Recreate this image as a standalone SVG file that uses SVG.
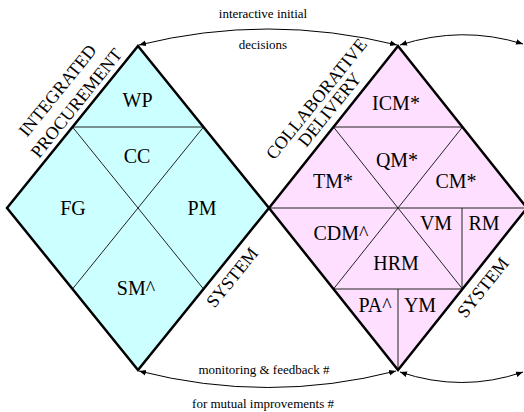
<svg xmlns="http://www.w3.org/2000/svg" width="524" height="412" viewBox="0 0 524 412">
<defs>
<marker id="ah" viewBox="0 0 10 10" refX="10" refY="5" markerWidth="7" markerHeight="7" markerUnits="userSpaceOnUse" orient="auto-start-reverse">
<path d="M0,1 L10,5 L0,9 z" fill="#000"/>
</marker>
<style>
.lbl{font-family:"Liberation Serif","Times New Roman",serif;font-size:20px;fill:#000;text-anchor:middle}
.side{font-family:"Liberation Serif","Times New Roman",serif;font-size:18px;fill:#000;text-anchor:middle}
.note{font-family:"Liberation Serif","Times New Roman",serif;font-size:13px;fill:#000;text-anchor:middle}
.inner{stroke:#222;stroke-width:1;fill:none}
.border{stroke:#000;stroke-width:2.5;fill:none;stroke-linejoin:miter}
.arc{stroke:#000;stroke-width:1;fill:none;marker-start:url(#ah);marker-end:url(#ah)}
</style>
</defs>
<rect width="524" height="412" fill="#fff"/>

<g id="integrated-procurement">
<polygon points="138,46 269,208 138,370 7,208" fill="#ccffff"/>
<line class="inner" x1="72.5" y1="127" x2="203.5" y2="127"/>
<line class="inner" x1="72.5" y1="127" x2="203.5" y2="289"/>
<line class="inner" x1="203.5" y1="127" x2="72.5" y2="289"/>
<polygon class="border" points="138,46 269,208 138,370 7,208"/>
<text class="lbl" x="137.5" y="107">WP</text>
<text class="lbl" x="137" y="163">CC</text>
<text class="lbl" x="73" y="215">FG</text>
<text class="lbl" x="202" y="215">PM</text>
<text class="lbl" x="136" y="295">SM^</text>
<g transform="translate(72.5,127) rotate(-51.03)">
<text class="side" x="19" y="-28.5">INTEGRATED</text>
<text class="side" x="21" y="-6">PROCUREMENT</text>
</g>
<g transform="translate(203.5,289) rotate(-51.03)">
<text class="side" x="27" y="21">SYSTEM</text>
</g>
</g>

<g id="collaborative-delivery">
<polygon points="398,46 527,208 398,370 269,208" fill="#ffdfff"/>
<line class="inner" x1="333.5" y1="127" x2="462.5" y2="127"/>
<line class="inner" x1="269" y1="208" x2="527" y2="208"/>
<line class="inner" x1="333.5" y1="127" x2="462.5" y2="289"/>
<line class="inner" x1="462.5" y1="127" x2="333.5" y2="289"/>
<line class="inner" x1="333.5" y1="289" x2="462.5" y2="289"/>
<line class="inner" x1="398" y1="289" x2="398" y2="370"/>
<line class="inner" x1="462" y1="208" x2="462" y2="289"/>
<polygon class="border" points="398,46 527,208 398,370 269,208"/>
<text class="lbl" x="396" y="110">ICM*</text>
<text class="lbl" x="397" y="167">QM*</text>
<text class="lbl" x="333" y="188">TM*</text>
<text class="lbl" x="456" y="188">CM*</text>
<text class="lbl" x="341" y="240">CDM^</text>
<text class="lbl" x="436" y="230">VM</text>
<text class="lbl" x="484" y="230">RM</text>
<text class="lbl" x="396" y="270">HRM</text>
<text class="lbl" x="375" y="312">PA^</text>
<text class="lbl" x="420" y="312">YM</text>
<g transform="translate(333.5,127) rotate(-51.03)">
<text class="side" x="11" y="-25">COLLABORATIVE</text>
<text class="side" x="11" y="-8">DELIVERY</text>
</g>
<g transform="translate(462.5,289) rotate(-51.36)">
<text class="side" x="14" y="21">SYSTEM</text>
</g>
</g>

<g id="connectors">
<path class="arc" d="M139,45 Q268,13 397,45"/>
<path class="arc" d="M400,45 Q462,25 523,44"/>
<path class="arc" d="M139,371 Q268,404 396,371"/>
<path class="arc" d="M400,372 Q462,393 523,372"/>
<text class="note" x="263" y="18">interactive initial</text>
<text class="note" x="263" y="49">decisions</text>
<text class="note" x="264" y="374">monitoring &amp; feedback #</text>
<text class="note" x="263" y="408">for mutual improvements #</text>
</g>
</svg>
